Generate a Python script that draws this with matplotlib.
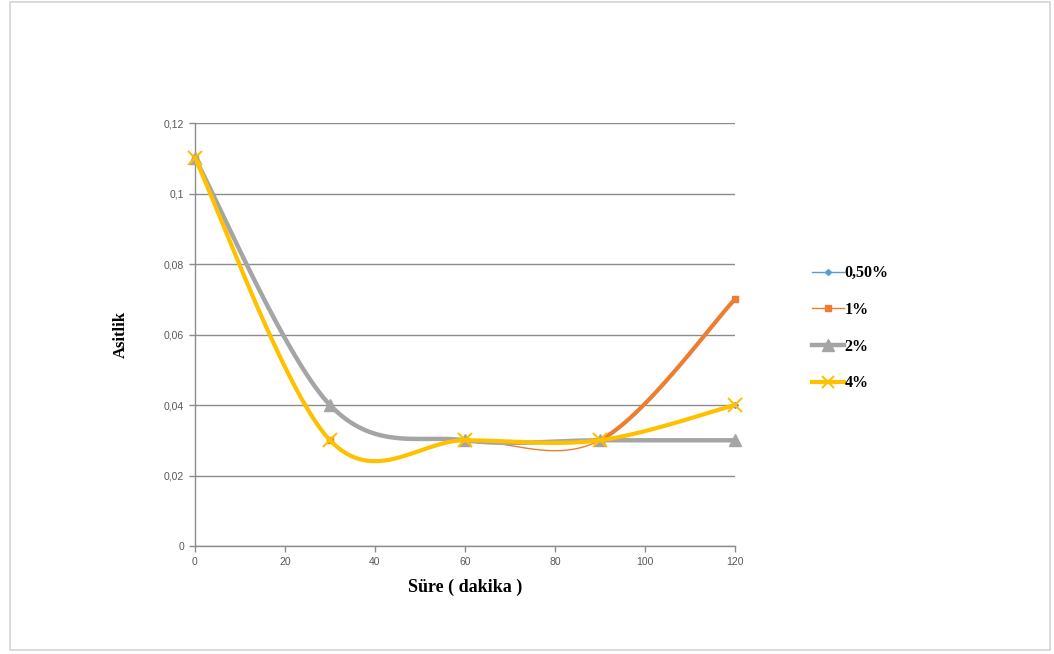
import numpy as np
import matplotlib
matplotlib.use('Agg')
import matplotlib.pyplot as plt
from matplotlib.patches import Rectangle

sure = [0, 30, 60, 90, 120]
asit_050 = [0.11, 0.03, 0.03, 0.03, 0.04]
asit_1 = [0.11, 0.03, 0.03, 0.03, 0.07]
asit_2 = [0.11, 0.04, 0.03, 0.03, 0.03]
asit_4 = [0.11, 0.03, 0.03, 0.03, 0.04]
etiketler = ['0,50%', '1%', '2%', '4%']
y_ticks = [0, 0.02, 0.04, 0.06, 0.08, 0.1, 0.12]
y_labels = ['0', '0,02', '0,04', '0,06', '0,08', '0,1', '0,12']
x_ticks = [0, 20, 40, 60, 80, 100, 120]


def smooth(x, y, n=40):
    # excel style smoothed line: bezier segments with catmull-rom tangents
    x = np.asarray(x, float)
    y = np.asarray(y, float)
    px, py = [], []
    for i in range(len(x) - 1):
        i0 = max(i - 1, 0)
        i3 = min(i + 2, len(x) - 1)
        c1x = x[i] + (x[i + 1] - x[i0]) / 6
        c1y = y[i] + (y[i + 1] - y[i0]) / 6
        c2x = x[i + 1] - (x[i3] - x[i]) / 6
        c2y = y[i + 1] - (y[i3] - y[i]) / 6
        t = np.linspace(0, 1, n)
        a, b, c, d = (1 - t) ** 3, 3 * t * (1 - t) ** 2, 3 * t ** 2 * (1 - t), t ** 3
        px.append(a * x[i] + b * c1x + c * c2x + d * x[i + 1])
        py.append(a * y[i] + b * c1y + c * c2y + d * y[i + 1])
    return np.concatenate(px), np.concatenate(py)


fig = plt.figure(figsize=(10.54, 6.54), dpi=100)
fig.patches.append(Rectangle((10 / 1054, 4 / 654), 1040 / 1054, 648 / 654,
                             transform=fig.transFigure, fill=False,
                             edgecolor='#d4d4d4', linewidth=1.2))
ax = fig.add_axes([0.185, 0.1651, 0.5123, 0.6468])

blue, orange, gray, yellow = '#5B9BD5', '#ED7D31', '#A5A5A5', '#FFC000'

sx, sy = smooth(sure, asit_050)
ax.plot(sx, sy, color=blue, lw=1, zorder=2)
ax.plot(sure, asit_050, 'D', color=blue, ms=3, zorder=2, clip_on=False)

sx, sy = smooth(sure, asit_1)
ax.plot(sx, sy, color=orange, lw=1, zorder=3)
n = len(sx) // 4
ax.plot(sx[3 * n:], sy[3 * n:], color=orange, lw=3, zorder=3,
        solid_capstyle='butt')
ax.plot(sure, asit_1, 's', color=orange, ms=4, zorder=3, clip_on=False)

sx, sy = smooth(sure, asit_2)
ax.plot(sx, sy, color=gray, lw=3.2, zorder=4)
ax.plot(sure, asit_2, '^', color=gray, ms=9, zorder=4, clip_on=False)

sx, sy = smooth(sure, asit_4)
ax.plot(sx, sy, color=yellow, lw=3, zorder=5)
ax.plot(sure, asit_4, 'x', color=yellow, ms=10, mew=1.5, zorder=5,
        clip_on=False)

# legend handles
h1, = ax.plot([], [], color=blue, lw=1, marker='D', ms=3)
h2, = ax.plot([], [], color=orange, lw=1, marker='s', ms=4)
h3, = ax.plot([], [], color=gray, lw=3.2, marker='^', ms=8)
h4, = ax.plot([], [], color=yellow, lw=3, marker='x', ms=9, mew=1.5)
fig.legend([h1, h2, h3, h4], etiketler, loc='upper left',
           bbox_to_anchor=(0.7565, 0.6165), frameon=False,
           handlelength=2.0, handletextpad=0.05, labelspacing=1.3,
           prop={'family': 'Liberation Serif', 'weight': 'bold', 'size': 11.5})

ax.set_xlim(0, 120)
ax.set_ylim(0, 0.12)
ax.set_yticks(y_ticks)
ax.set_yticklabels(y_labels)
ax.set_xticks(x_ticks)
ax.grid(axis='y', color='#8c8c8c', lw=1)
ax.set_axisbelow(True)
for s in ['top', 'right']:
    ax.spines[s].set_visible(False)
for s in ['left', 'bottom']:
    ax.spines[s].set_color('#8c8c8c')
    ax.spines[s].set_linewidth(1)
ax.tick_params(axis='both', colors='#8c8c8c', length=4, width=1,
               labelsize=7.5, labelcolor='#595959', pad=4)
for lab in ax.get_xticklabels() + ax.get_yticklabels():
    lab.set_family('Liberation Sans')

ax.set_xlabel('Süre ( dakika )', family='Liberation Serif', weight='bold',
              fontsize=13, labelpad=8)
ax.set_ylabel('Asitlik', family='Liberation Serif', weight='bold',
              fontsize=12, labelpad=25)

fig.savefig('out.png', dpi=100, facecolor='white')
